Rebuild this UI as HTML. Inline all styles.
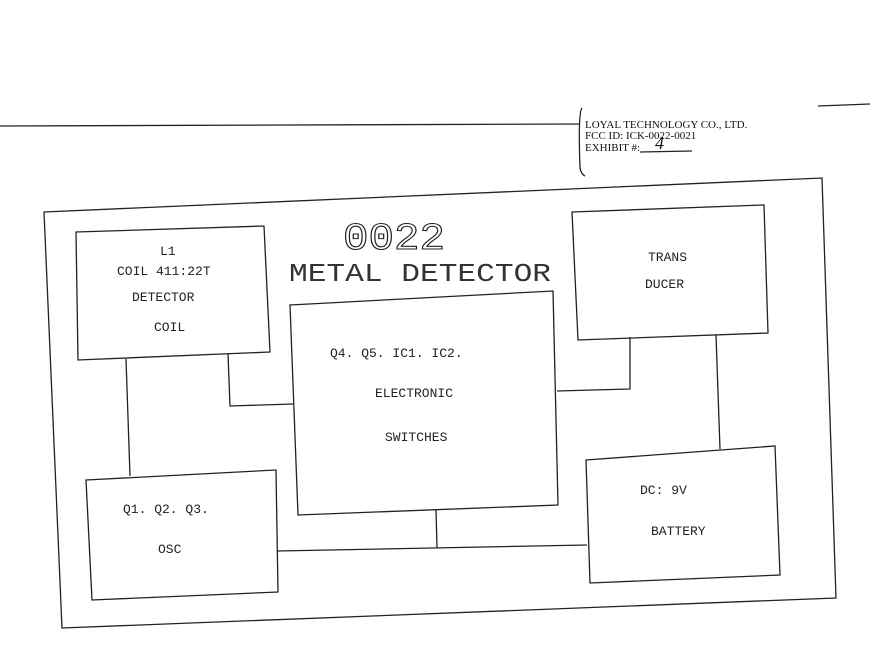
<!DOCTYPE html>
<html><head><style>body{margin:0;background:#fff}svg{display:block}</style></head><body>
<svg width="879" height="650" viewBox="0 0 879 650" xmlns="http://www.w3.org/2000/svg">
<rect width="879" height="650" fill="#fff"/>
<g stroke="#222" stroke-width="1.3" fill="none">
<line x1="0" y1="126" x2="580" y2="124"/>
<line x1="818" y1="106" x2="870" y2="104"/>
<path d="M582 108 Q578 112 580 168 Q581 174 585 176"/>
<polygon points="44,212 822,178 836,598 62,628"/>
<polygon points="76,232 264,226 270,352 78,360"/>
<polygon points="290,305 553,291 558,505 298,515"/>
<polygon points="572,212 764,205 768,333 578,340"/>
<polygon points="86,480 276,470 278,592 92,600"/>
<polygon points="586,460 775,446 780,575 590,583"/>
<polyline points="126,359 130,476"/>
<polyline points="228,354 230,406 293,404"/>
<polyline points="557,391 630,389 630,337"/>
<polyline points="716,335 720,449"/>
<polyline points="277,551 587,545"/>
<polyline points="436,510 437,548"/>
<line x1="640" y1="152" x2="692" y2="151"/>
</g>
<g font-family="Liberation Serif, serif" font-size="11" fill="#111">
<text x="585" y="128">LOYAL TECHNOLOGY CO., LTD.</text>
<text x="585" y="139">FCC ID:  ICK-0022-0021</text>
<text x="585" y="151">EXHIBIT #:</text>
<text x="655" y="149" font-size="18" font-style="italic">4</text>
</g>
<g font-family="Liberation Mono, monospace" fill="#222" font-size="13">
<text x="343" y="249" font-size="38" fill="none" stroke="#222" stroke-width="1.1" textLength="102" lengthAdjust="spacingAndGlyphs">0022</text>
<text x="289" y="281" font-size="26" fill="#333" textLength="262" lengthAdjust="spacingAndGlyphs">METAL DETECTOR</text>
<text x="160" y="255">L1</text>
<text x="117" y="275">COIL  411:22T</text>
<text x="132" y="301">DETECTOR</text>
<text x="154" y="331">COIL</text>
<text x="330" y="357">Q4. Q5. IC1. IC2.</text>
<text x="375" y="397">ELECTRONIC</text>
<text x="385" y="441">SWITCHES</text>
<text x="648" y="261">TRANS</text>
<text x="645" y="288">DUCER</text>
<text x="123" y="513">Q1. Q2. Q3.</text>
<text x="158" y="553">OSC</text>
<text x="640" y="494">DC:   9V</text>
<text x="651" y="535">BATTERY</text>
</g>
</svg>
</body></html>
